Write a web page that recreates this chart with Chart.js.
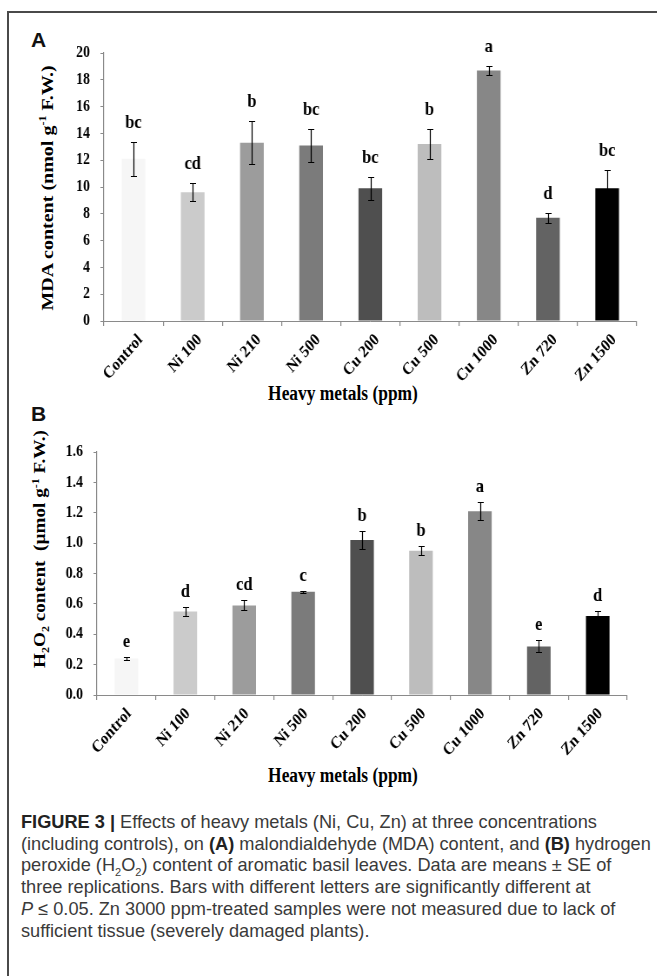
<!DOCTYPE html>
<html>
<head>
<meta charset="utf-8">
<script src="https://cdn.jsdelivr.net/npm/chart.js@4.4.1/dist/chart.umd.min.js"></script>
<style>
  html, body { margin: 0; padding: 0; background: #fff; }
  body { width: 657px; height: 976px; position: relative; overflow: hidden; }
  .frame { position: absolute; left: 7px; top: 11px; right: -5px; bottom: -5px;
           border-left: 2px solid #4a4a4a; border-top: 2px solid #4a4a4a; }
  canvas { position: absolute; transform-origin: 0 0; }
  .panel { position: absolute; font-family: "Liberation Sans", Arial, sans-serif; font-weight: bold; font-size: 21px; color: #111; }
  .ytitle, .xtitle { position: absolute; font-family: "Liberation Serif", "Times New Roman", serif; font-weight: bold;
           color: #000; white-space: nowrap; }
  .ytitle { font-size: 20px; transform: translate(-50%, -50%) rotate(-90deg) scaleY(0.87); }
  .xtitle { font-size: 20px; transform: translate(-50%, -50%) scaleX(0.87); }
  sup, sub { font-size: 12px; line-height: 0; }
  .caption { position: absolute; left: 21px; top: 812px; width: 640px; font-family: "Liberation Sans", Arial, sans-serif;
             font-size: 18.2px; line-height: 21.7px; color: #3a3a3a; white-space: nowrap; }
  .caption b { color: #222; }
  .caption sub { font-size: 11px; }
</style>
</head>
<body>
<div class="frame"></div>

<div class="panel" style="left:31px; top:28px;">A</div>
<div class="panel" style="left:31px; top:402px;">B</div>

<div class="ytitle" style="left:47px; top:188px;">MDA content (nmol g<sup>-1</sup> F.W.)</div>
<div class="ytitle" style="left:40px; top:549px; font-size:19.2px;">H<sub>2</sub>O<sub>2</sub> content&nbsp; (µmol g<sup>-1</sup> F.W.)</div>
<div class="xtitle" style="left:343px; top:393px;">Heavy metals (ppm)</div>
<div class="xtitle" style="left:343px; top:775px;">Heavy metals (ppm)</div>

<canvas id="chartA" width="742" height="375" style="left:10px; top:12px;"></canvas>
<canvas id="chartB" width="742" height="365" style="left:10px; top:415px;"></canvas>

<div class="caption">
<b>FIGURE 3 |</b> Effects of heavy metals (Ni, Cu, Zn) at three concentrations<br>
(including controls), on <b>(A)</b> malondialdehyde (MDA) content, and <b>(B)</b> hydrogen<br>
peroxide (H<sub>2</sub>O<sub>2</sub>) content of aromatic basil leaves. Data are means ± SE of<br>
three replications. Bars with different letters are significantly different at<br>
<i>P</i> ≤ 0.05. Zn 3000 ppm-treated samples were not measured due to lack of<br>
sufficient tissue (severely damaged plants).
</div>

<script>
const categories = ['Control', 'Ni 100', 'Ni 210', 'Ni 500', 'Cu 200', 'Cu 500', 'Cu 1000', 'Zn 720', 'Zn 1500'];
const barColors = ['#f6f6f6', '#cbcbcb', '#9c9c9c', '#7b7b7b', '#4f4f4f', '#bdbdbd', '#878787', '#636363', '#000000'];

// panel A - MDA
const mdaMeans = [12.1, 9.6, 13.3, 13.1, 9.9, 13.2, 18.7, 7.7, 9.9];
const mdaSE = [1.25, 0.68, 1.6, 1.25, 0.87, 1.1, 0.35, 0.38, 1.4];
const mdaLetters = ['bc', 'cd', 'b', 'bc', 'bc', 'b', 'a', 'd', 'bc'];

// panel B - H2O2
const h2o2Means = [0.24, 0.55, 0.59, 0.68, 1.02, 0.95, 1.21, 0.32, 0.52];
const h2o2SE = [0.008, 0.03, 0.033, 0.008, 0.06, 0.03, 0.06, 0.04, 0.03];
const h2o2Letters = ['e', 'd', 'cd', 'c', 'b', 'b', 'a', 'e', 'd'];

const serif = '"Liberation Serif", "Times New Roman", serif';
const axisColor = '#8a8a8a';
// the original figure is squeezed horizontally, so the canvases are drawn wide and scaled down in x
const squeeze = 645 / 742;

// draws error bars and significance letters above them
const errorLetters = {
  id: 'errorLetters',
  afterDatasetsDraw(chart, args, opts) {
    const ctx = chart.ctx;
    const y = chart.scales.y;
    const meta = chart.getDatasetMeta(0);
    ctx.save();
    ctx.strokeStyle = '#000';
    ctx.lineWidth = 1.2;
    meta.data.forEach((bar, i) => {
      const m = opts.means[i], e = opts.errors[i];
      const x = Math.round(bar.x) + 0.5;
      const top = Math.round(y.getPixelForValue(m + e)) + 0.5;
      const bot = Math.round(y.getPixelForValue(m - e)) + 0.5;
      ctx.beginPath();
      ctx.moveTo(x, top); ctx.lineTo(x, bot);
      ctx.moveTo(x - 3.5, top); ctx.lineTo(x + 3.5, top);
      ctx.moveTo(x - 3.5, bot); ctx.lineTo(x + 3.5, bot);
      ctx.stroke();
      ctx.fillStyle = '#000';
      ctx.font = 'bold 19px ' + serif;
      ctx.textAlign = 'center';
      ctx.textBaseline = 'alphabetic';
      ctx.fillText(opts.letters[i], bar.x, top - opts.gap);
    });
    ctx.restore();
  }
};

function makeChart(id, means, errors, letters, yMax, step, decimals, pad, yWidth, xHeight, gap, lblShift) {
  const canvas = document.getElementById(id);
  const chart = new Chart(canvas, {
    type: 'bar',
    data: {
      labels: categories,
      datasets: [{
        data: means,
        backgroundColor: barColors,
        borderWidth: 0,
        barPercentage: 0.4,
        categoryPercentage: 1.0
      }]
    },
    options: {
      responsive: false,
      animation: false,
      devicePixelRatio: 1,
      layout: { padding: pad },
      plugins: {
        legend: { display: false },
        tooltip: { enabled: false },
        errorLetters: { means: means, errors: errors, letters: letters, gap: gap }
      },
      scales: {
        x: {
          grid: { drawOnChartArea: false, drawTicks: true, tickLength: 5, offset: true, color: axisColor, lineWidth: 1.2 },
          border: { color: axisColor, width: 1 },
          ticks: {
            color: '#000', maxRotation: 45, minRotation: 45, padding: 4, autoSkip: false,
            labelOffset: lblShift,
            font: { family: serif, weight: 'bold', size: 17 }
          },
          afterFit: s => { s.height = xHeight; }
        },
        y: {
          min: 0, max: yMax,
          grid: { drawOnChartArea: false, tickLength: 4, color: axisColor },
          border: { color: axisColor, width: 1.2 },
          ticks: {
            stepSize: step, color: '#000', padding: 12,
            font: { family: serif, weight: 'bold', size: 16 },
            callback: v => Number(v).toFixed(decimals)
          },
          afterFit: s => { s.width = yWidth; }
        }
      }
    },
    plugins: [errorLetters]
  });
  canvas.style.transform = 'scaleX(' + squeeze + ')';
  return chart;
}

makeChart('chartA', mdaMeans, mdaSE, mdaLetters, 20, 2, 0,
  { top: 41, right: 21, left: 0, bottom: 0 }, 108, 66, 15, 8);
makeChart('chartB', h2o2Means, h2o2SE, h2o2Letters, 1.6, 0.2, 1,
  { top: 37, right: 32, left: 0, bottom: 0 }, 100, 85, 11, 3);
</script>
</body>
</html>
